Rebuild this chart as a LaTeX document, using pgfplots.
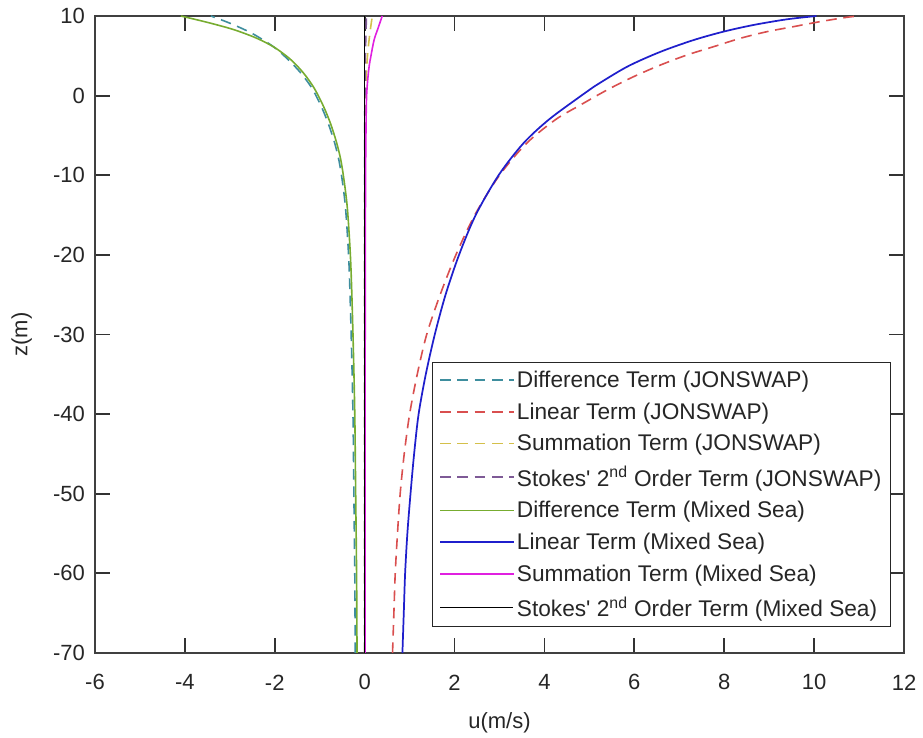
\documentclass[border=0pt]{standalone}
\usepackage{fontspec}
\setmainfont{Liberation Sans}
\usepackage{pgfplots}
\pgfplotsset{compat=1.18}

\definecolor{cteal}{HTML}{3E8E9E}
\definecolor{cred}{HTML}{D94F4F}
\definecolor{cyel}{HTML}{D4C04A}
\definecolor{cpurp}{HTML}{7E5A96}
\definecolor{cgreen}{HTML}{77AC30}
\definecolor{cblue}{HTML}{1F1FCC}
\definecolor{cmag}{HTML}{E020E0}

\newcommand{\lblfont}{\fontsize{16.5}{19}\selectfont}
\newcommand{\legfont}{\fontsize{17}{20}\selectfont}

\begin{document}
\begin{tikzpicture}
  \begin{axis}[
    name=ax,
    scale only axis,
    width=606.75pt, height=477.75pt,
    xmin=-6, xmax=12, ymin=-70, ymax=10,
    xtick={-6,-4,...,12}, ytick={-70,-60,...,10},
    major tick length=11pt,
    tick align=inside,
    axis line style={black!75, line width=0.8pt},
    major tick style={black!80, line width=1.4pt},
    tick label style={font=\lblfont, text=black!85},
    xticklabel style={anchor=center, yshift=-22pt},
    yticklabel style={xshift=-4pt},
    /pgf/number format/assume math mode=true,
    xlabel={u(m/s)}, ylabel={z(m)},
    label style={font=\lblfont, text=black!85},
    xlabel style={at={(rel axis cs:0.5,0)}, anchor=center, yshift=-52pt},
    ylabel style={at={(rel axis cs:0,0.5)}, anchor=center, yshift=55pt},
    legend style={
      at={(0.984,0.041)}, anchor=south east,
      draw=black!85, line width=0.6pt,
      font=\legfont, text=black!85,
      inner xsep=5pt, inner ysep=4pt,
      row sep=6pt,
      /tikz/every even column/.append style={column sep=6pt},
    },
    legend cell align={left},
    legend image code/.code={\draw[#1] plot coordinates {(0pt,0pt) (55pt,0pt)};},
  ]
    % Difference Term (JONSWAP)
    \addplot[cteal, line width=1.2pt, dash pattern=on 8pt off 5pt, smooth] coordinates {
      (-0.21,-70) (-0.22,-60) (-0.24,-50) (-0.26,-40) (-0.30,-30) (-0.35,-21)
      (-0.42,-14.5) (-0.49,-11) (-0.57,-8.2) (-0.67,-5.9) (-0.81,-3.5)
      (-0.97,-1.3) (-1.17,0.9) (-1.40,2.7) (-1.68,4.4) (-2.02,6.1)
      (-2.5,7.8) (-2.98,9.05) (-3.42,10)
    };
    % Linear Term (JONSWAP)
    \addplot[cred, line width=1.2pt, dash pattern=on 8pt off 5pt, smooth] coordinates {
      (0.62,-70) (0.65,-65) (0.68,-60) (0.73,-55) (0.79,-50) (0.88,-45)
      (1.0,-40) (1.17,-35) (1.38,-30) (1.68,-25) (2.03,-20) (2.45,-15)
      (3.0,-10) (3.6,-6) (4.25,-3) (4.8,-1.18) (5.39,0.7) (5.98,2.37)
      (6.58,3.84) (7.17,5.1) (7.76,6.14) (8.36,7.2) (8.95,8.03) (9.54,8.66)
      (10.13,9.29) (10.73,9.84) (11.0,10)
    };
    % Summation Term (JONSWAP)
    \addplot[cyel, line width=1.2pt, dash pattern=on 8pt off 5pt, smooth] coordinates {
      (0,-70) (0,-20) (0.01,-5) (0.02,0) (0.04,3) (0.07,5.5) (0.12,8) (0.17,10)
    };
    % Stokes' 2nd Order Term (JONSWAP)
    \addplot[cpurp, line width=1.2pt, dash pattern=on 8pt off 5pt, smooth] coordinates {
      (0,-70) (0,-20) (0,-5) (0.01,2) (0.02,6) (0.04,10)
    };
    % Difference Term (Mixed Sea)
    \addplot[cgreen, line width=1.2pt, smooth] coordinates {
      (-0.17,-70) (-0.18,-60) (-0.20,-50) (-0.22,-40) (-0.26,-30) (-0.31,-21)
      (-0.38,-14.5) (-0.45,-11) (-0.53,-8.1) (-0.63,-5.8) (-0.76,-3.5)
      (-0.92,-1.3) (-1.13,1.0) (-1.37,2.9) (-1.66,4.6) (-2.02,6.1)
      (-2.42,7.25) (-2.92,8.3) (-3.5,9.2) (-4.09,10)
    };
    % Linear Term (Mixed Sea)
    \addplot[cblue, line width=1.3pt, smooth] coordinates {
      (0.84,-70) (0.87,-65) (0.90,-60) (0.95,-55) (1.02,-50) (1.10,-45)
      (1.20,-40) (1.36,-35) (1.56,-30) (1.80,-25) (2.10,-20) (2.47,-15)
      (2.98,-10) (3.53,-6) (4.1,-3) (4.82,0) (5.1,1.12) (5.84,3.63)
      (6.58,5.5) (7.32,6.98) (7.98,8.03) (8.65,8.87) (9.39,9.58) (10.05,10)
    };
    % Summation Term (Mixed Sea)
    \addplot[cmag, line width=1.2pt, smooth] coordinates {
      (0.01,-70) (0.01,-40) (0.015,-20) (0.02,-10) (0.03,-4) (0.04,-0.5)
      (0.06,1.5) (0.1,3.7) (0.14,5) (0.21,7) (0.3,8.5) (0.39,10)
    };
    % Stokes' 2nd Order Term (Mixed Sea)
    \addplot[black, line width=1.2pt] coordinates {(0,-70) (0,10)};
    \legend{Difference Term (JONSWAP), Linear Term (JONSWAP),
      Summation Term (JONSWAP),
      Stokes\textquotesingle\ 2\textsuperscript{nd} Order Term (JONSWAP),
      Difference Term (Mixed Sea), Linear Term (Mixed Sea),
      Summation Term (Mixed Sea),
      Stokes\textquotesingle\ 2\textsuperscript{nd} Order Term (Mixed Sea)}
  \end{axis}
  \path (ax.south west) ++(-71.25pt,-61.5pt) coordinate (bl);
  \path (ax.north east) ++(14.25pt,12pt) coordinate (tr);
  \path (bl) rectangle (tr);
\end{tikzpicture}
\end{document}
